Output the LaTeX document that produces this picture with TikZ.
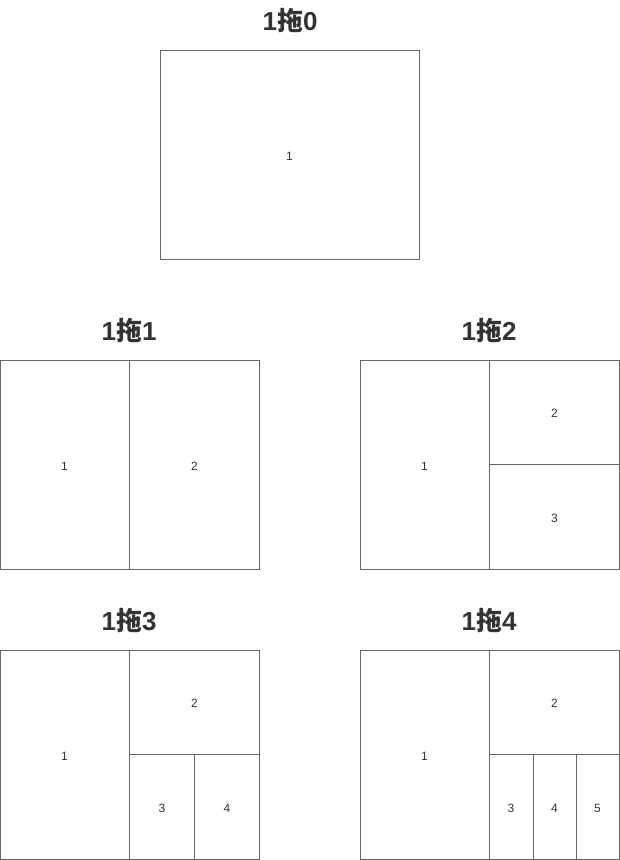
\documentclass[tikz,border=0pt]{standalone}
\usepackage{fontspec}
\setmainfont{Liberation Sans}
\newfontfamily\cjk{Noto Sans CJK SC}
\definecolor{edgegray}{HTML}{666666}
\definecolor{titlegray}{HTML}{333333}
\definecolor{labelgray}{HTML}{333333}
\tikzset{
  cell/.style={draw=edgegray, line width=1pt, rectangle, inner sep=0pt,
    font=\fontsize{12}{14}\selectfont, text=labelgray, text height=11pt, text depth=0pt},
  ttl/.style={font=\bfseries\fontsize{26}{30}\selectfont, text=titlegray, inner sep=0pt},
}
\newcommand{\tuo}[1]{1{\cjk 拖}#1}
\begin{document}
\begin{tikzpicture}[x=1pt,y=-1pt]
\useasboundingbox (0,0) rectangle (620,860);
% titles
\node[ttl] (t0) at (290,20) {\tuo{0}};
\node[ttl] (t1) at (129,330) {\tuo{1}};
\node[ttl] (t2) at (489,330) {\tuo{2}};
\node[ttl] (t3) at (129,620) {\tuo{3}};
\node[ttl] (t4) at (489,620) {\tuo{4}};
% top
\node[cell, minimum width=259pt, minimum height=209pt] (a1) at (289.5,154.5) {1};
% row 2 left
\node[cell, minimum width=129pt, minimum height=209pt] (b1) at (64.5,464.5) {1};
\node[cell, minimum width=130pt, minimum height=209pt] (b2) at (194.5,464.5) {2};
% row 2 right
\node[cell, minimum width=129pt, minimum height=209pt] (c1) at (424.5,464.5) {1};
\node[cell, minimum width=130pt, minimum height=104pt] (c2) at (554.5,412) {2};
\node[cell, minimum width=130pt, minimum height=105pt] (c3) at (554.5,516.5) {3};
% row 3 left
\node[cell, minimum width=129pt, minimum height=209pt] (d1) at (64.5,754.5) {1};
\node[cell, minimum width=130pt, minimum height=104pt] (d2) at (194.5,702) {2};
\node[cell, minimum width=65pt, minimum height=105pt] (d3) at (162,806.5) {3};
\node[cell, minimum width=65pt, minimum height=105pt] (d4) at (227,806.5) {4};
% row 3 right
\node[cell, minimum width=129pt, minimum height=209pt] (e1) at (424.5,754.5) {1};
\node[cell, minimum width=130pt, minimum height=104pt] (e2) at (554.5,702) {2};
\node[cell, minimum width=44pt, minimum height=105pt] (e3) at (511,806.5) {3};
\node[cell, minimum width=43pt, minimum height=105pt] (e4) at (554.5,806.5) {4};
\node[cell, minimum width=43pt, minimum height=105pt] (e5) at (597.5,806.5) {5};
\end{tikzpicture}
\end{document}
